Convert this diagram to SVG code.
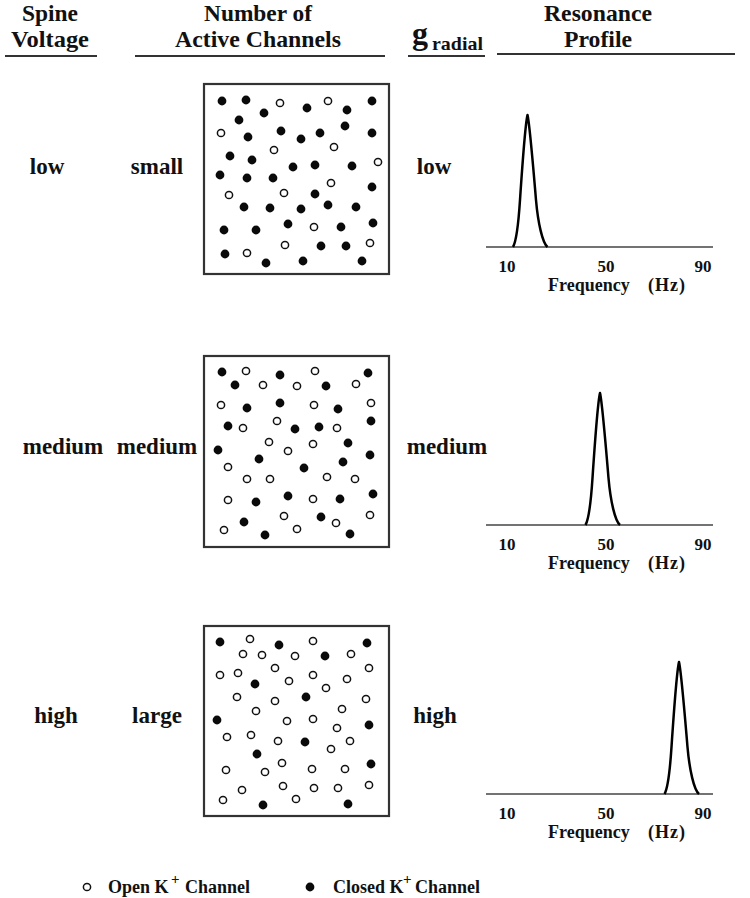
<svg xmlns="http://www.w3.org/2000/svg" xmlns:xlink="http://www.w3.org/1999/xlink" width="750" height="898" viewBox="0 0 750 898">
<style>
text{font-family:"Liberation Serif","Times New Roman",serif;font-weight:bold;fill:#111}
.hd{font-size:23px;text-anchor:middle}
.rl{font-size:23px;text-anchor:middle}
.tk{font-size:17px;text-anchor:middle}
.fq{font-size:18px}
.lg{font-size:18px}
.hl{stroke:#333;stroke-width:2}
.box{fill:#fff;stroke:#333;stroke-width:2.2}
.ax{stroke:#444;stroke-width:1.6}
.pk{fill:none;stroke:#000;stroke-width:2.5;stroke-linejoin:round}
</style>
<defs>
<circle id="o" r="3.6" fill="#fff" stroke="#111" stroke-width="1.5"/>
<circle id="c" r="4.4" fill="#0a0a0a"/>
<path id="peak" d="M -14.5,132 C -11,126 -9,108 -7.5,85 C -5.5,55 -2,8 0,0 C 2,8 6,55 8.5,85 C 10.5,108 15,128 20,132"/>
</defs>

<g id="headers">
<text class="hd" x="50" y="21" textLength="56" lengthAdjust="spacingAndGlyphs">Spine</text>
<text class="hd" x="50" y="47" textLength="78" lengthAdjust="spacingAndGlyphs">Voltage</text>
<line class="hl" x1="5" y1="56" x2="97" y2="56"/>
<text class="hd" x="258" y="21" textLength="108" lengthAdjust="spacingAndGlyphs">Number of</text>
<text class="hd" x="258" y="47" textLength="166" lengthAdjust="spacingAndGlyphs">Active Channels</text>
<line class="hl" x1="135" y1="56" x2="385" y2="56"/>
<text x="412" y="44" style="font-size:32px">g</text>
<text x="432" y="50" style="font-size:19px" textLength="51" lengthAdjust="spacingAndGlyphs">radial</text>
<line class="hl" x1="408" y1="56" x2="485" y2="56"/>
<text class="hd" x="598" y="21" textLength="108" lengthAdjust="spacingAndGlyphs">Resonance</text>
<text class="hd" x="598" y="47" textLength="68" lengthAdjust="spacingAndGlyphs">Profile</text>
<line class="hl" x1="497" y1="54" x2="735" y2="54"/>
</g>

<g id="row-low">
<text class="rl" x="47" y="174">low</text>
<text class="rl" x="157" y="174">small</text>
<text class="rl" x="434" y="174">low</text>
</g>
<g id="row-medium">
<text class="rl" x="63" y="454">medium</text>
<text class="rl" x="157" y="454">medium</text>
<text class="rl" x="447" y="454">medium</text>
</g>
<g id="row-high">
<text class="rl" x="56" y="723">high</text>
<text class="rl" x="157" y="723">large</text>
<text class="rl" x="435" y="723">high</text>
</g>

<g id="box-small">
<rect class="box" x="204" y="84" width="185" height="190"/>
<use href="#c" x="222" y="101"/><use href="#c" x="246" y="100"/><use href="#o" x="280" y="103"/><use href="#c" x="307" y="108"/><use href="#o" x="328" y="101"/><use href="#c" x="347" y="110"/><use href="#c" x="372" y="101"/>
<use href="#c" x="264" y="113"/><use href="#c" x="239" y="120"/><use href="#o" x="221" y="133"/><use href="#c" x="248" y="137"/><use href="#c" x="281" y="131"/><use href="#c" x="301" y="139"/><use href="#c" x="320" y="133"/><use href="#c" x="345" y="126"/><use href="#c" x="372" y="133"/>
<use href="#o" x="274" y="150"/><use href="#o" x="334" y="147"/><use href="#c" x="230" y="156"/><use href="#c" x="252" y="160"/><use href="#c" x="293" y="167"/><use href="#c" x="315" y="165"/><use href="#c" x="352" y="166"/><use href="#o" x="378" y="162"/>
<use href="#c" x="220" y="175"/><use href="#c" x="247" y="178"/><use href="#c" x="273" y="178"/><use href="#o" x="331" y="183"/><use href="#c" x="372" y="187"/><use href="#o" x="229" y="195"/><use href="#o" x="284" y="193"/><use href="#c" x="315" y="194"/>
<use href="#c" x="244" y="207"/><use href="#c" x="270" y="208"/><use href="#c" x="301" y="209"/><use href="#c" x="328" y="205"/><use href="#c" x="356" y="207"/>
<use href="#c" x="224" y="230"/><use href="#c" x="256" y="230"/><use href="#c" x="288" y="224"/><use href="#o" x="314" y="227"/><use href="#c" x="341" y="227"/><use href="#c" x="373" y="223"/>
<use href="#o" x="285" y="245"/><use href="#c" x="321" y="246"/><use href="#c" x="346" y="246"/><use href="#o" x="370" y="243"/><use href="#c" x="225" y="254"/><use href="#o" x="247" y="253"/><use href="#c" x="266" y="263"/><use href="#c" x="303" y="261"/><use href="#c" x="362" y="261"/>
</g>

<g id="box-medium">
<rect class="box" x="204" y="356" width="185" height="191"/>
<use href="#c" x="222" y="372"/><use href="#o" x="246" y="371"/><use href="#c" x="280" y="375"/><use href="#o" x="315" y="371"/><use href="#c" x="368" y="373"/>
<use href="#c" x="235" y="385"/><use href="#o" x="263" y="385"/><use href="#o" x="297" y="386"/><use href="#c" x="326" y="386"/><use href="#o" x="356" y="384"/>
<use href="#o" x="221" y="405"/><use href="#c" x="247" y="408"/><use href="#c" x="280" y="403"/><use href="#o" x="314" y="405"/><use href="#c" x="338" y="409"/><use href="#o" x="371" y="403"/>
<use href="#c" x="228" y="426"/><use href="#o" x="243" y="428"/><use href="#o" x="277" y="421"/><use href="#c" x="295" y="429"/><use href="#c" x="319" y="427"/><use href="#o" x="337" y="428"/><use href="#c" x="371" y="421"/>
<use href="#o" x="269" y="442"/><use href="#o" x="313" y="444"/><use href="#c" x="348" y="443"/><use href="#c" x="218" y="450"/><use href="#o" x="288" y="451"/><use href="#c" x="259" y="459"/><use href="#c" x="343" y="462"/><use href="#c" x="370" y="455"/>
<use href="#o" x="228" y="467"/><use href="#c" x="304" y="468"/><use href="#o" x="247" y="479"/><use href="#o" x="270" y="479"/><use href="#o" x="327" y="477"/><use href="#o" x="355" y="479"/>
<use href="#o" x="228" y="500"/><use href="#c" x="256" y="502"/><use href="#c" x="288" y="496"/><use href="#o" x="313" y="499"/><use href="#c" x="340" y="499"/><use href="#c" x="373" y="494"/>
<use href="#o" x="284" y="516"/><use href="#c" x="321" y="517"/><use href="#o" x="336" y="523"/><use href="#o" x="370" y="515"/><use href="#c" x="244" y="522"/><use href="#o" x="224" y="530"/><use href="#o" x="297" y="529"/><use href="#c" x="265" y="535"/><use href="#c" x="350" y="534"/>
</g>

<g id="box-large">
<rect class="box" x="204" y="626" width="185" height="190"/>
<use href="#c" x="220" y="642"/><use href="#o" x="250" y="639"/><use href="#c" x="279" y="645"/><use href="#o" x="313" y="641"/><use href="#c" x="367" y="643"/>
<use href="#o" x="243" y="654"/><use href="#o" x="262" y="655"/><use href="#o" x="295" y="656"/><use href="#c" x="325" y="656"/><use href="#o" x="351" y="654"/>
<use href="#o" x="220" y="675"/><use href="#o" x="238" y="673"/><use href="#o" x="275" y="668"/><use href="#c" x="255" y="684"/><use href="#o" x="289" y="681"/><use href="#o" x="313" y="675"/><use href="#o" x="347" y="679"/><use href="#o" x="369" y="668"/><use href="#o" x="326" y="688"/>
<use href="#o" x="237" y="697"/><use href="#o" x="275" y="701"/><use href="#c" x="306" y="697"/><use href="#o" x="366" y="699"/><use href="#o" x="256" y="711"/><use href="#o" x="342" y="709"/>
<use href="#c" x="217" y="720"/><use href="#o" x="287" y="721"/><use href="#o" x="313" y="719"/><use href="#o" x="337" y="728"/><use href="#c" x="369" y="725"/>
<use href="#o" x="227" y="737"/><use href="#o" x="251" y="735"/><use href="#o" x="278" y="741"/><use href="#c" x="305" y="742"/><use href="#o" x="350" y="741"/><use href="#o" x="331" y="749"/><use href="#c" x="257" y="754"/>
<use href="#o" x="282" y="763"/><use href="#o" x="226" y="770"/><use href="#o" x="265" y="772"/><use href="#o" x="312" y="769"/><use href="#o" x="345" y="769"/><use href="#c" x="371" y="764"/>
<use href="#o" x="242" y="790"/><use href="#o" x="283" y="786"/><use href="#o" x="314" y="788"/><use href="#o" x="338" y="788"/><use href="#o" x="369" y="785"/><use href="#o" x="223" y="800"/><use href="#o" x="296" y="799"/><use href="#c" x="263" y="805"/><use href="#c" x="348" y="804"/>
</g>

<g id="profile-low">
<line class="ax" x1="486" y1="247" x2="713" y2="247"/>
<use href="#peak" class="pk" x="527.5" y="115"/>
<text class="tk" x="507" y="272">10</text><text class="tk" x="606" y="272">50</text><text class="tk" x="703" y="272">90</text>
<text class="fq" y="291"><tspan x="548">Frequency</tspan><tspan x="648" textLength="37" lengthAdjust="spacing">(Hz)</tspan></text>
</g>
<g id="profile-medium">
<line class="ax" x1="486" y1="525" x2="713" y2="525"/>
<use href="#peak" class="pk" x="600" y="393"/>
<text class="tk" x="507" y="550">10</text><text class="tk" x="606" y="550">50</text><text class="tk" x="703" y="550">90</text>
<text class="fq" y="569"><tspan x="548">Frequency</tspan><tspan x="648" textLength="37" lengthAdjust="spacing">(Hz)</tspan></text>
</g>
<g id="profile-high">
<line class="ax" x1="486" y1="794" x2="713" y2="794"/>
<use href="#peak" class="pk" x="679" y="662"/>
<text class="tk" x="507" y="819">10</text><text class="tk" x="606" y="819">50</text><text class="tk" x="703" y="819">90</text>
<text class="fq" y="838"><tspan x="548">Frequency</tspan><tspan x="648" textLength="37" lengthAdjust="spacing">(Hz)</tspan></text>
</g>

<g id="legend">
<use href="#o" x="87" y="887"/>
<text class="lg" y="893"><tspan x="108">Open K</tspan><tspan x="171" y="884" style="font-size:15px">+</tspan><tspan x="185" y="893">Channel</tspan></text>
<use href="#c" x="310" y="887"/>
<text class="lg" y="893"><tspan x="333">Closed K</tspan><tspan x="403" y="884" style="font-size:15px">+</tspan><tspan x="415" y="893">Channel</tspan></text>
</g>
</svg>
